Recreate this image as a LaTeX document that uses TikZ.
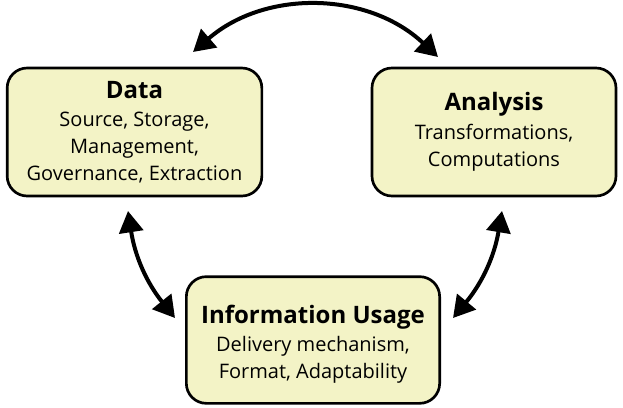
\documentclass[tikz,border=0pt]{standalone}
\usepackage{fontspec}
\setmainfont{Open Sans}
\usetikzlibrary{arrows.meta,positioning}
\definecolor{boxfill}{RGB}{243,243,198}

\begin{document}
\begin{tikzpicture}[
    x=0.75pt, y=-0.75pt,
    box/.style={draw, line width=2pt, rounded corners=15pt, fill=boxfill,
                align=center, font=\fontsize{15}{20.3}\selectfont,
                inner sep=0pt},
    arr/.style={{Triangle[length=16pt,width=18pt]}-{Triangle[length=16pt,width=18pt]},
                line width=3pt}
]
\useasboundingbox (0,0) rectangle (623,407);

% Three stages
\node[box, minimum width=191pt, minimum height=96pt] (data) at (134.5,132)
    {{\fontsize{18}{20}\selectfont\bfseries Data}\\[1pt]Source, Storage,\\Management,\\Governance, Extraction};
\node[box, minimum width=183pt, minimum height=96pt] (analysis) at (494,132)
    {{\fontsize{18}{20}\selectfont\bfseries Analysis}\\[1pt]Transformations,\\Computations};
\node[box, minimum width=190pt, minimum height=95pt] (usage) at (313,340)
    {{\fontsize{18}{20}\selectfont\bfseries\rule{0pt}{20pt}Information Usage}\\[1pt]Delivery mechanism,\\Format, Adaptability};

% Arrow ends
\coordinate (d1) at (193,52);
\coordinate (a1) at (438,57);
\coordinate (d2) at (128,211);
\coordinate (u1) at (175,318);
\coordinate (a2) at (502,211);
\coordinate (u2) at (453,318);

\draw[arr] (d1) to[bend left=42] (a1);
\draw[arr] (d2) to[bend right=15] (u1);
\draw[arr] (a2) to[bend left=15] (u2);

\end{tikzpicture}
\end{document}
